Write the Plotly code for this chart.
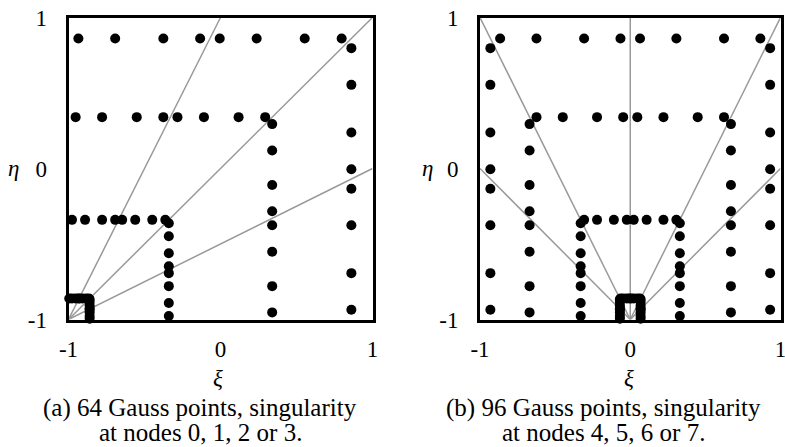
import plotly.graph_objects as go

# ---------------- data ----------------
# (a) singularity at corner (-1,-1): 4 layers, each a row at eta=level and a column at xi=level
a_levels = [-0.861, -0.340, 0.340, 0.861]
a_offsets = [
    [-0.995, -0.977, -0.953, -0.935, -0.926, -0.908, -0.884, -0.866],
    [-0.977, -0.891, -0.779, -0.693, -0.647, -0.561, -0.449, -0.363],
    [-0.953, -0.779, -0.551, -0.376, -0.283, -0.109, 0.119, 0.294],
    [-0.935, -0.693, -0.376, -0.134, -0.005, 0.238, 0.554, 0.797],
]
a_ray_x = [0, 1, 1]
a_ray_y = [1, 1, 0]
a_origin = (-1, -1)

# (b) singularity at mid-bottom (0,-1): top rows + two side columns per layer
b_levels = [-0.861, -0.340, 0.340, 0.861]
b_row_xi = [
    [-0.065, -0.047, -0.023, -0.005, 0.005, 0.023, 0.047, 0.065],
    [-0.307, -0.221, -0.109, -0.023, 0.023, 0.109, 0.221, 0.307],
    [-0.624, -0.449, -0.221, -0.047, 0.047, 0.221, 0.449, 0.624],
    [-0.866, -0.624, -0.307, -0.065, 0.065, 0.307, 0.624, 0.866],
]
b_col_xi = [0.069, 0.330, 0.670, 0.931]
b_col_eta = [
    [-0.995, -0.977, -0.953, -0.935, -0.926, -0.908, -0.884, -0.866],
    [-0.977, -0.891, -0.779, -0.693, -0.647, -0.561, -0.449, -0.363],
    [-0.953, -0.779, -0.551, -0.376, -0.283, -0.109, 0.119, 0.294],
    [-0.935, -0.693, -0.376, -0.134, -0.005, 0.238, 0.554, 0.797],
]
b_ray_x = [-1, -1, 0, 1, 1]
b_ray_y = [0, 1, 1, 1, 0]
b_origin = (0, -1)

tick_vals = [-1, 0, 1]
tick_text = ["-1", "0", "1"]
captions = [
    ["(a) 64 Gauss points, singularity", "at nodes 0, 1, 2 or 3."],
    ["(b) 96 Gauss points, singularity", "at nodes 4, 5, 6 or 7."],
]

# ---------------- build point sets ----------------
ax_pts_x, ax_pts_y = [], []
for lev, offs in zip(a_levels, a_offsets):
    for o in offs:
        ax_pts_x.append(o); ax_pts_y.append(lev)   # row
        ax_pts_x.append(lev); ax_pts_y.append(o)   # column

bx_pts_x, bx_pts_y = [], []
for lev, xs, cx, etas in zip(b_levels, b_row_xi, b_col_xi, b_col_eta):
    for x in xs:
        bx_pts_x.append(x); bx_pts_y.append(lev)
    for e in etas:
        bx_pts_x.append(-cx); bx_pts_y.append(e)
        bx_pts_x.append(cx); bx_pts_y.append(e)


def rays(origin, ex, ey):
    xs, ys = [], []
    for x, y in zip(ex, ey):
        xs += [origin[0], x, None]
        ys += [origin[1], y, None]
    return xs, ys

FONT = "Liberation Serif"
FS_TICK = 23
FS_CAP = 25
fig = go.Figure()

rx, ry = rays(a_origin, a_ray_x, a_ray_y)
fig.add_trace(go.Scatter(x=rx, y=ry, mode="lines", line=dict(color="#999999", width=1.5),
                         xaxis="x", yaxis="y", showlegend=False, hoverinfo="skip"))
fig.add_trace(go.Scatter(x=ax_pts_x, y=ax_pts_y, mode="markers", cliponaxis=False,
                         marker=dict(color="black", size=10), xaxis="x", yaxis="y", showlegend=False))

rx, ry = rays(b_origin, b_ray_x, b_ray_y)
fig.add_trace(go.Scatter(x=rx, y=ry, mode="lines", line=dict(color="#999999", width=1.5),
                         xaxis="x2", yaxis="y2", showlegend=False, hoverinfo="skip"))
fig.add_trace(go.Scatter(x=bx_pts_x, y=bx_pts_y, mode="markers", cliponaxis=False,
                         marker=dict(color="black", size=10), xaxis="x2", yaxis="y2", showlegend=False))

W, H = 785, 447
def px(x): return x / W
def py(y): return 1 - y / H

ydom = [py(319.5), py(17.5)]
axis_common = dict(range=[-1, 1], showgrid=False, zeroline=False, showline=True, mirror=True,
                   linecolor="black", linewidth=3, ticks="", tickvals=tick_vals, ticktext=tick_text,
                   ticklabeloverflow="allow",
                   tickfont=dict(family=FONT, size=FS_TICK, color="black"), automargin=False, fixedrange=True)

fig.update_layout(
    width=W, height=H, margin=dict(l=0, r=0, t=0, b=0),
    paper_bgcolor="white", plot_bgcolor="white",
    xaxis=dict(domain=[px(68.5), px(372.5)], anchor="y", ticklabelstandoff=7, **axis_common),
    yaxis=dict(domain=ydom, anchor="x", ticklabelstandoff=14, **axis_common),
    xaxis2=dict(domain=[px(480), px(780.5)], anchor="y2", ticklabelstandoff=7, **axis_common),
    yaxis2=dict(domain=ydom, anchor="x2", ticklabelstandoff=14, **axis_common),
)

anns = [
    dict(x=px(13), y=py(169), text="<i>η</i>", size=FS_TICK),
    dict(x=px(427), y=py(169), text="<i>η</i>", size=FS_TICK),
    dict(x=px(218), y=py(378), text="<i>ξ</i>", size=FS_TICK),
    dict(x=px(629), y=py(378), text="<i>ξ</i>", size=FS_TICK),
    dict(x=px(200), y=py(408), text=captions[0][0], size=FS_CAP),
    dict(x=px(200), y=py(432), text=captions[0][1], size=FS_CAP),
    dict(x=px(603), y=py(408), text=captions[1][0], size=FS_CAP),
    dict(x=px(603), y=py(432), text=captions[1][1], size=FS_CAP),
]
for a in anns:
    size = a.pop("size")
    fig.add_annotation(xref="paper", yref="paper", showarrow=False, xanchor="center", yanchor="middle",
                       font=dict(family=FONT, size=size, color="black"), **a)

fig.write_html("out.html")
